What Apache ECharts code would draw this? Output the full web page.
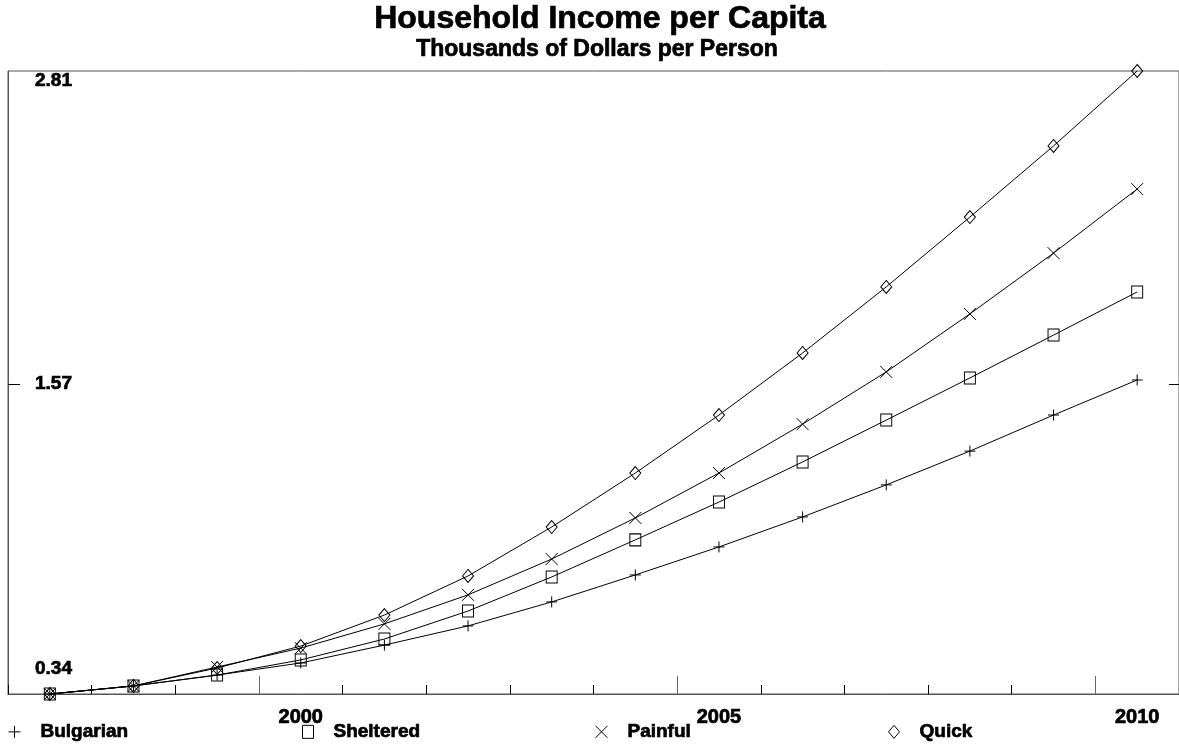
<!DOCTYPE html>
<html>
<head>
<meta charset="utf-8">
<title>Household Income per Capita</title>
<script src="https://cdn.jsdelivr.net/npm/echarts@6/dist/echarts.min.js"></script>
<style>
  html, body { margin: 0; padding: 0; background: #ffffff; }
  #chart { width: 1179px; height: 748px; }
</style>
</head>
<body>
<div id="chart"></div>
<script>
// Household income per capita, thousands of dollars per person
const years = ['1997', '1998', '1999', '2000', '2001', '2002', '2003',
               '2004', '2005', '2006', '2007', '2008', '2009', '2010'];

const bulgarian = [0.340, 0.372, 0.415, 0.463, 0.534, 0.610, 0.705,
                   0.812, 0.923, 1.042, 1.169, 1.303, 1.446, 1.585];
const sheltered = [0.340, 0.372, 0.415, 0.475, 0.558, 0.669, 0.804,
                   0.951, 1.101, 1.260, 1.426, 1.593, 1.763, 1.934];
const painful   = [0.340, 0.372, 0.447, 0.522, 0.618, 0.733, 0.875,
                   1.038, 1.216, 1.410, 1.617, 1.847, 2.088, 2.342];
const quick     = [0.340, 0.372, 0.443, 0.530, 0.653, 0.808, 1.002,
                   1.216, 1.446, 1.692, 1.954, 2.231, 2.513, 2.810];

const yTickValues = [0.34, 1.57, 2.81];
const yTickLabels = ['0.34', '1.57', '2.81'];
const xLabelYears = ['2000', '2005', '2010'];

const FONT = '"Liberation Sans", Arial, Helvetica, sans-serif';
const AXIS_GRAY = '#555555';

// heavy black lettering: bold face plus a thin outline of the same colour
function heavyText(size) {
  return {
    fontFamily: FONT, fontSize: size, fontWeight: 'bold', color: '#000',
    textBorderColor: '#000', textBorderWidth: 0.7
  };
}

const SYMBOL_PLUS  = 'path://M6,0L6,12M0,6L12,6';
const SYMBOL_CROSS = 'path://M0,0L12,12M12,0L0,12';

const hollow = { color: 'rgba(0,0,0,0)', borderColor: '#000', borderWidth: 1 };

const seriesDefs = [
  { name: 'Bulgarian', data: bulgarian, symbol: SYMBOL_PLUS,  size: 11,       legendSize: [12, 12], legendLeft: 8 },
  { name: 'Sheltered', data: sheltered, symbol: 'rect',       size: [11, 12], legendSize: [11, 13], legendLeft: 302 },
  { name: 'Painful',   data: painful,   symbol: SYMBOL_CROSS, size: 12,       legendSize: [12, 13], legendLeft: 595 },
  { name: 'Quick',     data: quick,     symbol: 'diamond',    size: [11, 13], legendSize: [11, 13], legendLeft: 888 }
];

const chart = echarts.init(document.getElementById('chart'), null, { renderer: 'canvas' });

const yRange = { min: yTickValues[0], max: yTickValues[yTickValues.length - 1] };

const legendText = heavyText(19);
legendText.padding = [0, 0, 0, 15];

const option = {
  backgroundColor: '#ffffff',
  animation: false,
  title: [
    {
      text: 'Household Income per Capita',
      left: 600,
      textAlign: 'center',
      top: 3,
      padding: 0,
      textStyle: heavyText(32)
    },
    {
      text: 'Thousands of Dollars per Person',
      left: 597,
      textAlign: 'center',
      top: 38,
      padding: 0,
      textStyle: heavyText(23)
    }
  ],
  legend: seriesDefs.map(function (s) {
    return {
      left: s.legendLeft,
      top: 722,
      padding: 0,
      itemWidth: s.legendSize[0],
      itemHeight: s.legendSize[1],
      selectedMode: false,
      data: [{ name: s.name, icon: s.symbol, itemStyle: hollow }],
      formatter: function (name) { return '{t|' + name + '}'; },
      textStyle: Object.assign(heavyText(19), { rich: { t: legendText } })
    };
  }),
  grid: {
    left: 8,
    top: 71,
    right: -4,
    height: 623,
    show: true,
    borderColor: AXIS_GRAY,
    borderWidth: 1,
    backgroundColor: 'rgba(0,0,0,0)',
    containLabel: false
  },
  xAxis: [
    {
      type: 'category',
      data: years,
      position: 'bottom',
      boundaryGap: true,
      axisLine: { show: true, lineStyle: { color: AXIS_GRAY, width: 1 } },
      axisTick: { show: true, inside: true, length: 9, interval: 0, lineStyle: { color: '#000', width: 1 } },
      axisLabel: Object.assign({
        show: true,
        interval: function (index, value) { return xLabelYears.indexOf(value) >= 0; },
        margin: 13
      }, heavyText(20)),
      splitLine: { show: false }
    },
    {
      // longer ticks marking every fifth year
      type: 'category',
      data: years,
      position: 'bottom',
      boundaryGap: true,
      axisLine: { show: false },
      axisTick: {
        show: true, inside: true, length: 18,
        interval: function (index, value) { return xLabelYears.indexOf(value) >= 0; },
        lineStyle: { color: '#666', width: 1 }
      },
      axisLabel: { show: false },
      splitLine: { show: false }
    }
  ],
  yAxis: [
    {
      type: 'value',
      position: 'left',
      min: yRange.min,
      max: yRange.max,
      axisLine: { show: true, lineStyle: { color: AXIS_GRAY, width: 1 } },
      axisTick: { show: true, inside: true, length: 12, customValues: [yTickValues[1]], lineStyle: { color: '#000' } },
      axisLabel: Object.assign({
        show: true,
        inside: true,
        margin: 27,
        customValues: yTickValues,
        verticalAlignMinLabel: 'bottom',
        verticalAlignMaxLabel: 'top',
        formatter: function (value) {
          const i = yTickValues.indexOf(value);
          const txt = i >= 0 ? yTickLabels[i] : String(value);
          return value === yRange.min ? '{lo|' + txt + '}' : txt;
        },
        rich: { lo: Object.assign(heavyText(19), { lineHeight: 51 }) }
      }, heavyText(19)),
      splitLine: { show: false }
    },
    {
      type: 'value',
      position: 'right',
      min: yRange.min,
      max: yRange.max,
      axisLine: { show: false },
      axisTick: { show: true, inside: true, length: 10, customValues: [yTickValues[1]], lineStyle: { color: '#000' } },
      axisLabel: { show: false },
      splitLine: { show: false }
    }
  ],
  series: seriesDefs.map(function (s) {
    return {
      name: s.name,
      type: 'line',
      xAxisIndex: 0,
      yAxisIndex: 0,
      data: s.data,
      smooth: false,
      showAllSymbol: true,
      symbol: s.symbol,
      symbolSize: s.size,
      lineStyle: { color: '#000', width: 1 },
      itemStyle: hollow,
      emphasis: { disabled: true }
    };
  })
};

chart.setOption(option);
</script>
</body>
</html>
